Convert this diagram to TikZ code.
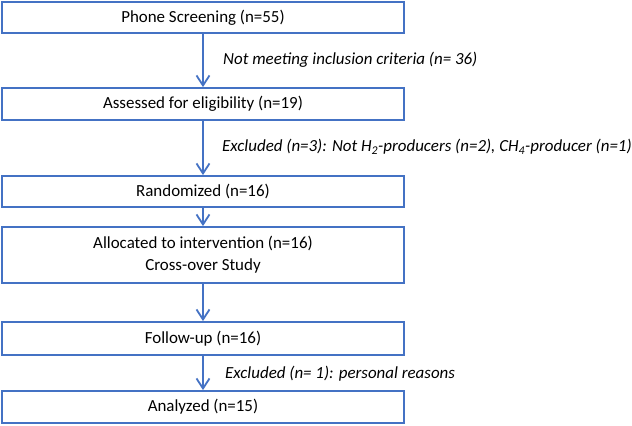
\documentclass[tikz,border=0pt]{standalone}
\usepackage{fontspec}
\setmainfont{Carlito}
\usetikzlibrary{arrows.meta}
\definecolor{flowblue}{RGB}{68,114,196}
\begin{document}
\begin{tikzpicture}[x=1bp,y=-1bp,
  flowbox/.style={draw=flowblue,line width=1.8bp,minimum width=402bp,inner sep=0pt,align=center,font=\fontsize{17}{22}\selectfont},
  flowarrow/.style={draw=flowblue,line width=1.8bp,-{Straight Barb[length=10bp,width=13bp,line width=1.8bp]}},
  note/.style={anchor=west,inner sep=0pt,font=\fontsize{17}{20}\selectfont\itshape}]
\useasboundingbox (0,0) rectangle (632,425);
\node[flowbox,minimum height=31bp] (b1) at (203,17.5) {Phone Screening (n=55)};
\node[flowbox,minimum height=32bp] (b2) at (203,104) {Assessed for eligibility (n=19)};
\node[flowbox,minimum height=31bp] (b3) at (203,191.5) {Randomized (n=16)};
\node[flowbox,minimum height=56bp] (b4) at (203,255) {Allocated to intervention (n=16)\\Cross-over Study};
\node[flowbox,minimum height=33bp] (b5) at (203,338.5) {Follow-up (n=16)};
\node[flowbox,minimum height=32bp] (b6) at (203,407) {Analyzed (n=15)};
\draw[flowarrow] (b1) -- (b2);
\draw[flowarrow] (b2) -- (b3);
\draw[flowarrow] (b3) -- (b4);
\draw[flowarrow] (b4) -- (b5);
\draw[flowarrow] (b5) -- (b6);
\node[note] (n1) at (223,60) {Not meeting inclusion criteria (n= 36)};
\node[note] (n2) at (222,147) {Excluded (n=3): Not H\textsubscript{2}-producers (n=2), CH\textsubscript{4}-producer (n=1)};
\node[note] (n3) at (225,374) {Excluded (n= 1): personal reasons};
\end{tikzpicture}
\end{document}
